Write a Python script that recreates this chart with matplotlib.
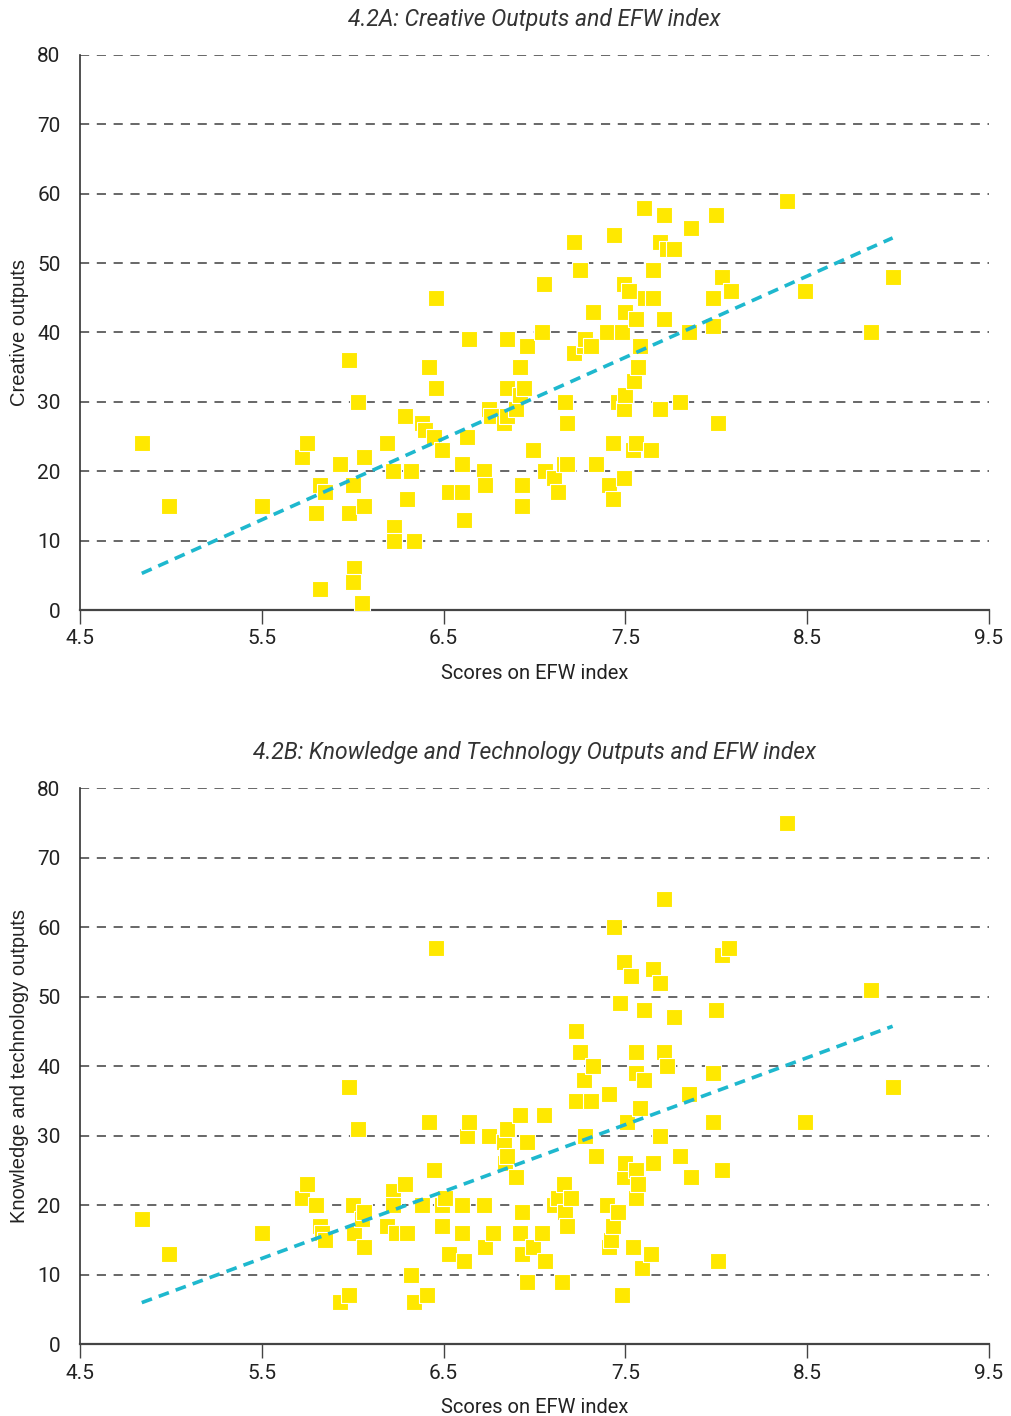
import matplotlib
matplotlib.use('Agg')
import matplotlib.pyplot as plt
import numpy as np

# scores on EFW index vs. creative outputs (chart 4.2A)
efw_a = [4.84, 4.99, 5.50, 5.72, 5.75, 5.82, 5.80, 5.85, 5.93, 5.98, 5.98, 6.00, 6.03, 6.06, 6.06,
         5.82, 6.01, 6.00, 6.05, 6.19, 6.22, 6.23, 6.23, 6.29, 6.32, 6.30, 6.34, 6.38, 6.40, 6.42,
         6.46, 6.46, 6.45, 6.49, 6.53, 6.60, 6.60, 6.61, 6.63, 6.64, 6.72, 6.73, 6.75, 6.76, 6.83,
         6.85, 6.85, 6.85, 6.90, 6.92, 6.92, 6.93, 6.93, 6.94, 6.96, 6.99, 7.04, 7.05, 7.06, 7.11,
         7.13, 7.16, 7.17, 7.18, 7.18, 7.22, 7.22, 7.25, 7.27, 7.28, 7.31, 7.32, 7.34, 7.40, 7.41,
         7.43, 7.43, 7.44, 7.46, 7.48, 7.49, 7.49, 7.49, 7.50, 7.50, 7.52, 7.54, 7.56, 7.55, 7.56,
         7.57, 7.58, 7.60, 7.61, 7.65, 7.64, 7.65, 7.69, 7.69, 7.71, 7.71, 7.73, 7.77, 7.80, 7.85,
         7.86, 7.98, 7.98, 8.00, 8.01, 8.03, 8.08, 8.39, 8.49, 8.85, 8.97]
creative = [24, 15, 15, 22, 24, 18, 14, 17, 21, 36, 14, 18, 30, 22, 15,
            3, 6, 4, 1, 24, 20, 12, 10, 28, 20, 16, 10, 27, 26, 35,
            45, 32, 25, 23, 17, 17, 21, 13, 25, 39, 20, 18, 29, 28, 27,
            39, 32, 28, 29, 31, 35, 18, 15, 32, 38, 23, 40, 47, 20, 19,
            17, 21, 30, 27, 21, 53, 37, 49, 38, 39, 38, 43, 21, 40, 18,
            24, 16, 54, 30, 40, 19, 47, 29, 31, 43, 46, 23, 24, 33, 42,
            35, 38, 58, 45, 45, 23, 49, 53, 29, 57, 42, 52, 52, 30, 40,
            55, 45, 41, 57, 27, 48, 46, 59, 46, 40, 48]

# scores on EFW index vs. knowledge and technology outputs (chart 4.2B)
efw_b = [4.84, 4.99, 5.50, 5.72, 5.75, 5.80, 5.82, 5.83, 5.85, 5.93, 5.98, 5.98, 6.00, 6.01, 6.03,
         6.05, 6.06, 6.06, 6.19, 6.22, 6.22, 6.24, 6.29, 6.30, 6.32, 6.34, 6.38, 6.41, 6.42, 6.46,
         6.45, 6.49, 6.49, 6.53, 6.51, 6.60, 6.61, 6.60, 6.63, 6.64, 6.72, 6.73, 6.75, 6.77, 6.83,
         6.85, 6.84, 6.85, 6.90, 6.92, 6.92, 6.93, 6.93, 6.96, 6.96, 6.99, 7.04, 7.05, 7.06, 7.11,
         7.13, 7.15, 7.16, 7.17, 7.18, 7.20, 7.23, 7.23, 7.25, 7.27, 7.28, 7.31, 7.32, 7.34, 7.40,
         7.41, 7.41, 7.42, 7.43, 7.44, 7.46, 7.47, 7.48, 7.49, 7.49, 7.50, 7.51, 7.53, 7.54, 7.56,
         7.56, 7.56, 7.56, 7.57, 7.58, 7.59, 7.60, 7.60, 7.64, 7.65, 7.65, 7.69, 7.69, 7.71, 7.71,
         7.73, 7.77, 7.80, 7.85, 7.86, 7.98, 7.98, 8.00, 8.01, 8.03, 8.03, 8.07, 8.39, 8.49, 8.85,
         8.97]
knowledge = [18, 13, 16, 21, 23, 20, 17, 16, 15, 6, 7, 37, 20, 16, 31,
             18, 19, 14, 17, 22, 20, 16, 23, 16, 10, 6, 20, 7, 32, 57,
             25, 20, 17, 13, 21, 20, 12, 16, 30, 32, 20, 14, 30, 16, 29,
             31, 26, 27, 24, 33, 16, 19, 13, 9, 29, 14, 16, 33, 12, 20,
             21, 9, 23, 19, 17, 21, 35, 45, 42, 38, 30, 35, 40, 27, 20,
             36, 14, 15, 17, 60, 19, 49, 7, 24, 55, 26, 32, 53, 14, 21,
             25, 42, 39, 23, 34, 11, 48, 38, 13, 26, 54, 30, 52, 64, 42,
             40, 47, 27, 36, 24, 39, 32, 48, 12, 25, 56, 57, 75, 32, 51,
             37]

x_ticks = [4.5, 5.5, 6.5, 7.5, 8.5, 9.5]
y_ticks = [0, 10, 20, 30, 40, 50, 60, 70, 80]

panels = [
    ('4.2A: Creative Outputs and EFW index', 'Creative outputs', efw_a, creative),
    ('4.2B: Knowledge and Technology Outputs and EFW index', 'Knowledge and technology outputs', efw_b, knowledge),
]

fig = plt.figure(figsize=(10.11, 14.16), dpi=100)
rects = [[0.0791, 0.5692, 0.8991, 0.3920], [0.0791, 0.0508, 0.8991, 0.3927]]

for (title, ylabel, xs, ys), rect in zip(panels, rects):
    ax = fig.add_axes(rect)
    xs = np.array(xs)
    ys = np.array(ys)

    # dashed horizontal gridlines at every 10 (not at 0, that's the axis)
    for yv in y_ticks[1:]:
        ax.axhline(yv, color='#3f3f3f', lw=1.1, ls=(0, (6, 5)), zorder=1)

    ax.scatter(xs, ys, marker='s', s=125, color='#FFE800', edgecolors='white',
               linewidths=0.8, zorder=3)

    # linear trend
    k, b = np.polyfit(xs, ys, 1)
    xl = np.array([xs.min(), xs.max()])
    ax.plot(xl, k * xl + b, color='#1EB8CE', lw=2.6, ls=(0, (3, 2)), zorder=4)

    ax.set_xlim(4.5, 9.5)
    ax.set_ylim(0, 80)
    ax.set_xticks(x_ticks)
    ax.set_xticklabels([str(t) for t in x_ticks])
    ax.set_yticks(y_ticks)
    for s in ['top', 'right']:
        ax.spines[s].set_visible(False)
    ax.spines['left'].set_color('#333333')
    ax.spines['bottom'].set_color('#444444')
    ax.spines['left'].set_linewidth(1.2)
    ax.spines['bottom'].set_linewidth(1.6)
    ax.tick_params(axis='x', length=10, width=1.0, color='#444444', pad=4,
                   labelsize=15, labelcolor='#222222')
    ax.tick_params(axis='y', length=0, pad=14, labelsize=15, labelcolor='#222222')
    for lab in ax.get_xticklabels() + ax.get_yticklabels():
        lab.set_fontfamily('Roboto')

    ax.set_xlabel('Scores on EFW index', fontsize=14.5, family='Roboto', color='#222222', labelpad=11)
    ax.set_ylabel(ylabel, fontsize=14.5, family='Liberation Sans', color='#222222', labelpad=6)
    ax.set_title(title, fontsize=16.5, family='Roboto', style='italic', color='#333333', pad=21)

fig.savefig('out.png', dpi=100)
